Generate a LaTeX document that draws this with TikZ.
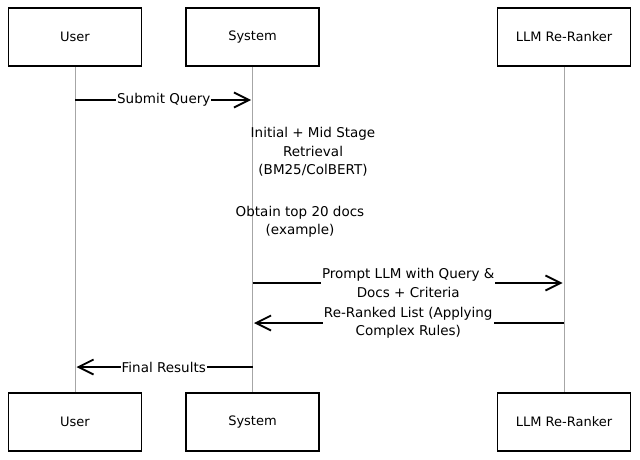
\documentclass[tikz,border=0pt]{standalone}
\usepackage{fontspec}
\setmainfont{DejaVu Sans}
\usetikzlibrary{arrows.meta}
\begin{document}
\begin{tikzpicture}[x=1pt,y=-1pt,
  actor/.style={draw, line width=1.6pt, minimum width=133pt, minimum height=58pt, inner sep=0pt, font=\fontsize{13}{18}\selectfont},
  life/.style={draw=black!35, line width=0.8pt},
  msg/.style={line width=1.8pt, -{Straight Barb[length=15pt,width=15pt]}, shorten >=1.5pt},
  lbl/.style={fill=white, align=center, inner xsep=1pt, inner ysep=0pt, font=\fontsize{13.5}{18.5}\selectfont},
  note/.style={align=center, inner sep=0pt, font=\fontsize{13.5}{18.5}\selectfont}]
\fill[white] (0,0) rectangle (640,460);
\useasboundingbox (0,0) rectangle (640,460);
% actors
\node[actor] (ut) at (75,37) {User};
\node[actor] (st) at (252.5,37) {System};
\node[actor] (lt) at (564,37) {LLM Re-Ranker};
\node[actor] (ub) at (75,422) {User};
\node[actor] (sb) at (252.5,422) {System};
\node[actor] (lb) at (564,422) {LLM Re-Ranker};
% lifelines
\draw[life] (ut) -- (ub);
\draw[life] (st) -- (sb);
\draw[life] (lt) -- (lb);
% message points
\coordinate (u1) at (75,100);
\coordinate (s1) at (252.5,100);
\coordinate (s2) at (252.5,283);
\coordinate (l2) at (564,283);
\coordinate (s3) at (252.5,323);
\coordinate (l3) at (564,323);
\coordinate (s4) at (252.5,367);
\coordinate (u4) at (75,367);
% messages
\draw[msg] (u1) -- node[lbl] {Submit Query} (s1);
\node[note] (n1) at (313,152) {Initial + Mid Stage\\Retrieval\\(BM25/ColBERT)};
\node[note] (n2) at (300,222) {Obtain top 20 docs\\(example)};
\draw[msg] (s2) -- node[lbl] {Prompt LLM with Query \&\\Docs + Criteria} (l2);
\draw[msg] (l3) -- node[lbl] {Re-Ranked List (Applying\\Complex Rules)} (s3);
\draw[msg] (s4) -- node[lbl] {Final Results} (u4);
\end{tikzpicture}
\end{document}
